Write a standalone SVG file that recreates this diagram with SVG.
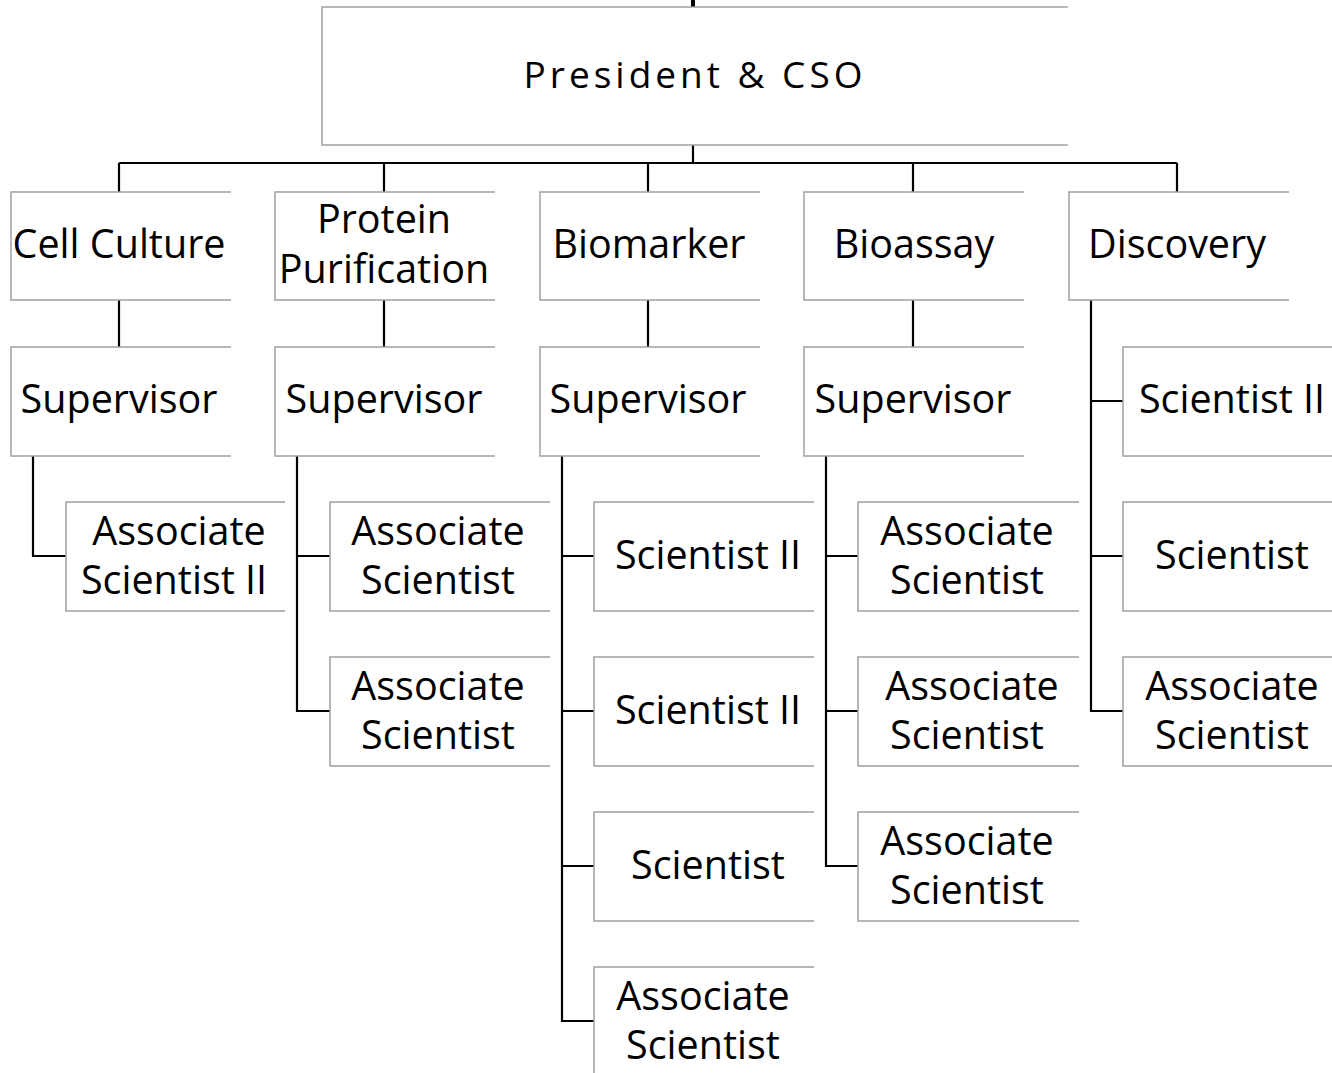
<svg xmlns="http://www.w3.org/2000/svg" width="1332" height="1073" viewBox="0 0 1332 1073">
<style>
.box{fill:#fff;stroke:#a0a0a0;stroke-width:1.5}
.t{font-family:"Open Sans","Liberation Sans",sans-serif;font-size:39.5px;fill:#000;text-anchor:middle}
.pt{font-family:"Open Sans","Liberation Sans",sans-serif;font-size:37px;fill:#000;text-anchor:middle;letter-spacing:4px}
.c{fill:none;stroke:#000;stroke-width:2.2}
</style>
<rect width="1332" height="1073" fill="#fff"/>
<g id="connectors">
<line x1="693" y1="0" x2="693" y2="8" stroke="#000" stroke-width="4"/>
<path class="c" d="M693,145V163M119,163H1177M119,163V192M384,163V192M648,163V192M913,163V192M1177,163V192"/>
<path class="c" d="M119,300V347M384,300V347M648,300V347M913,300V347"/>
<path class="c" d="M33,456V556H66"/>
<path class="c" d="M297,456V711H330M297,556H330"/>
<path class="c" d="M562,456V1021H594M562,556H594M562,711H594M562,866H594"/>
<path class="c" d="M826,456V866H858M826,556H858M826,711H858"/>
<path class="c" d="M1091,300V711H1123M1091,401H1123M1091,556H1123"/>
</g>
<g id="president"><path class="box" d="M1068,7H322V145H1068"/><text class="pt" x="695" y="88">President &amp; CSO</text></g>
<g id="cell-culture"><path class="box" d="M231,192H11V300H231"/><text class="t" x="119" y="258">Cell Culture</text></g>
<g id="protein-purification"><path class="box" d="M495,192H275V300H495"/><text class="t" x="384" y="233">Protein</text><text class="t" x="384" y="283">Purification</text></g>
<g id="biomarker"><path class="box" d="M760,192H540V300H760"/><text class="t" x="649" y="258">Biomarker</text></g>
<g id="bioassay"><path class="box" d="M1024,192H804V300H1024"/><text class="t" x="914" y="258">Bioassay</text></g>
<g id="discovery"><path class="box" d="M1289,192H1069V300H1289"/><text class="t" x="1177" y="258">Discovery</text></g>
<g id="sup-cell"><path class="box" d="M231,347H11V456H231"/><text class="t" x="119" y="413">Supervisor</text></g>
<g id="sup-protein"><path class="box" d="M495,347H275V456H495"/><text class="t" x="384" y="413">Supervisor</text></g>
<g id="sup-biomarker"><path class="box" d="M760,347H540V456H760"/><text class="t" x="648" y="413">Supervisor</text></g>
<g id="sup-bioassay"><path class="box" d="M1024,347H804V456H1024"/><text class="t" x="913" y="413">Supervisor</text></g>
<g id="disc-sci2"><path class="box" d="M1332,347H1123V456H1332"/><text class="t" x="1232" y="413">Scientist II</text></g>
<g id="cell-assoc2"><path class="box" d="M285,502H66V611H285"/><text class="t" x="179" y="545">Associate</text><text class="t" x="174" y="594">Scientist II</text></g>
<g id="prot-assoc1"><path class="box" d="M550,502H330V611H550"/><text class="t" x="438" y="545">Associate</text><text class="t" x="438" y="594">Scientist</text></g>
<g id="prot-assoc2"><path class="box" d="M550,657H330V766H550"/><text class="t" x="438" y="700">Associate</text><text class="t" x="438" y="749">Scientist</text></g>
<g id="bio-sci2a"><path class="box" d="M814,502H594V611H814"/><text class="t" x="708" y="569">Scientist II</text></g>
<g id="bio-sci2b"><path class="box" d="M814,657H594V766H814"/><text class="t" x="708" y="724">Scientist II</text></g>
<g id="bio-sci"><path class="box" d="M814,812H594V921H814"/><text class="t" x="708" y="879">Scientist</text></g>
<g id="bio-assoc"><path class="box" d="M814,967H594V1080"/><text class="t" x="703" y="1010">Associate</text><text class="t" x="703" y="1059">Scientist</text></g>
<g id="bioassay-assoc1"><path class="box" d="M1079,502H858V611H1079"/><text class="t" x="967" y="545">Associate</text><text class="t" x="967" y="594">Scientist</text></g>
<g id="bioassay-assoc2"><path class="box" d="M1079,657H858V766H1079"/><text class="t" x="972" y="700">Associate</text><text class="t" x="967" y="749">Scientist</text></g>
<g id="bioassay-assoc3"><path class="box" d="M1079,812H858V921H1079"/><text class="t" x="967" y="855">Associate</text><text class="t" x="967" y="904">Scientist</text></g>
<g id="disc-sci"><path class="box" d="M1332,502H1123V611H1332"/><text class="t" x="1232" y="569">Scientist</text></g>
<g id="disc-assoc"><path class="box" d="M1332,657H1123V766H1332"/><text class="t" x="1232" y="700">Associate</text><text class="t" x="1232" y="749">Scientist</text></g>
</svg>
